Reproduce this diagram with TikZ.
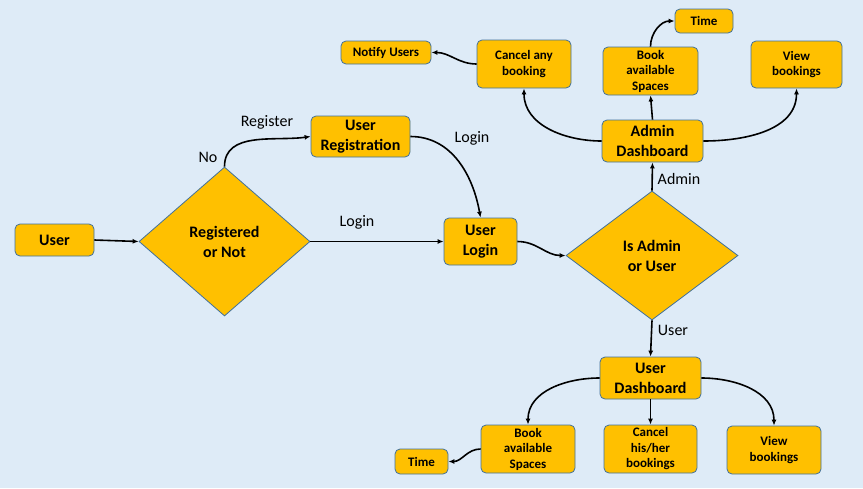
\documentclass[tikz,border=0pt]{standalone}
\usepackage{fontspec}
\setmainfont{Carlito}
\usetikzlibrary{shapes.geometric,arrows.meta}
\definecolor{bgc}{HTML}{DEEBF7}
\definecolor{boxc}{HTML}{FFC000}
\definecolor{edgec}{HTML}{41719C}
\begin{document}
\begin{tikzpicture}[x=1pt,y=1pt,
  bigbox/.style={draw=edgec, fill=boxc, rounded corners=5pt, line width=0.8pt, align=center, inner sep=0pt, font=\bfseries\fontsize{16}{20}\selectfont},
  smallbox/.style={draw=edgec, fill=boxc, rounded corners=5pt, line width=0.8pt, align=center, inner sep=0pt, font=\bfseries\fontsize{13}{15.5}\selectfont},
  dec/.style={diamond, draw=edgec, fill=boxc, line width=0.8pt, inner sep=0pt, align=center, font=\bfseries\fontsize{16}{20}\selectfont},
  conn/.style={line width=1.6pt, -{Latex[length=6pt,width=5pt]}},
  lbl/.style={font=\fontsize{16}{18}\selectfont, inner sep=0pt}]
\fill[bgc] (0,0) rectangle (863,-488);
\useasboundingbox (0,0) rectangle (863,-488);

\node[bigbox, minimum width=79pt, minimum height=32pt] (user) at (54.5,-240) {User};
\node[dec, minimum width=171pt, minimum height=149pt] (reg) at (224.5,-241.5) {Registered\\or Not};
\node[bigbox, minimum width=99pt, minimum height=41pt] (ureg) at (360.5,-136.5) {User\\Registration};
\node[bigbox, minimum width=73pt, minimum height=47pt] (login) at (480.5,-241.5) {User\\Login};
\node[dec, minimum width=172pt, minimum height=129pt] (isadm) at (652,-255.5) {Is Admin\\or User};
\node[bigbox, minimum width=101pt, minimum height=42pt] (adash) at (652.5,-141) {Admin\\Dashboard};
\node[smallbox, minimum width=94pt, minimum height=48pt] (cancelany) at (524,-64) {Cancel any\\booking};
\node[smallbox, minimum width=90pt, minimum height=23pt] (notify) at (386,-52.5) {Notify Users};
\node[smallbox, minimum width=95pt, minimum height=48pt] (booka) at (650.5,-71) {Book\\available\\Spaces};
\node[smallbox, minimum width=58pt, minimum height=24pt] (timea) at (704,-21) {Time};
\node[smallbox, minimum width=91pt, minimum height=47pt] (viewa) at (796.5,-64.5) {View\\bookings};
\node[bigbox, minimum width=101pt, minimum height=42pt] (udash) at (650.5,-378) {User\\Dashboard};
\node[smallbox, minimum width=94pt, minimum height=48pt] (booku) at (528,-449) {Book\\available\\Spaces};
\node[smallbox, minimum width=93pt, minimum height=48pt] (cancelu) at (650.5,-449) {Cancel\\his/her\\bookings};
\node[smallbox, minimum width=94pt, minimum height=48pt] (viewu) at (774,-450) {View\\bookings};
\node[smallbox, minimum width=53pt, minimum height=25pt] (timeu) at (421.5,-461.5) {Time};

\node[lbl] (lno) at (208,-157) {No};
\node[lbl] (lregister) at (267,-122) {Register};
\node[lbl] (llogin1) at (472,-138) {Login};
\node[lbl] (llogin2) at (357,-222) {Login};
\node[lbl] (ladmin) at (679,-179) {Admin};
\node[lbl] (luser) at (673,-330) {User};

\draw[conn] (user.east) -- (reg.west);
\draw[conn] (reg.north) to[out=90,in=188] (ureg.west);
\draw[conn] (ureg.east) to[out=0,in=100] (login.north);
\draw[conn] (reg.east) -- (login.west);
\draw[conn] (login.east) to[out=0,in=180] (isadm.west);
\draw[conn] (isadm.north) -- (adash.south);
\draw[conn] (isadm.south) -- (udash.north);
\draw[conn] (adash.west) to[out=180,in=270] (cancelany.south);
\draw[conn] (adash.north) -- (booka.south);
\draw[conn] (adash.east) to[out=0,in=270] (viewa.south);
\draw[conn] (booka.north) to[out=90,in=180] (timea.west);
\draw[conn] (cancelany.west) to[out=180,in=0] (notify.east);
\draw[conn] (udash.west) to[out=180,in=90] (booku.north);
\draw[conn] (udash.south) -- (cancelu.north);
\draw[conn] (udash.east) to[out=0,in=90] (viewu.north);
\draw[conn] (booku.west) to[out=180,in=0] (timeu.east);
\end{tikzpicture}
\end{document}
